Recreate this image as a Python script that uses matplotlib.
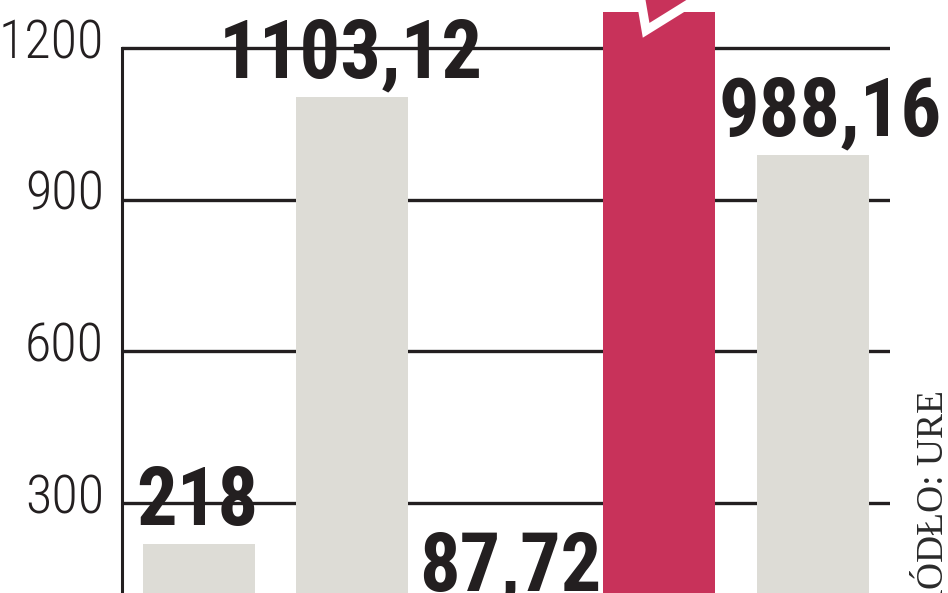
import matplotlib
matplotlib.use('Agg')
import matplotlib.pyplot as plt
from matplotlib import font_manager
from matplotlib.patches import Polygon
from matplotlib.transforms import ScaledTranslation

# values (red bar is cut off at the top)
categories = ['A', 'B', 'C', 'D', 'E']
values = [218, 1103.12, 87.72, 1271, 988.16]
labels = ['218', '1103,12', '87,72', None, '988,16']
highlight = 3
yticks = [300, 600, 900, 1200]
source = 'ŹRÓDŁO: URE'

grey = '#dddcd6'
red = '#c8325a'
ink = '#231f20'

# find a narrow face if there is one
fonts = font_manager.fontManager.ttflist
narrow_stretch = {'condensed', 'semi-condensed', 'extra-condensed', 'ultra-condensed', 'narrow'}
cond = [f for f in fonts if str(f.stretch) in narrow_stretch or
        'Condensed' in f.name or 'Narrow' in f.name]
if any(f.name == 'Roboto Condensed' for f in cond):
    narrow, stretch = 'Roboto Condensed', 'normal'
elif any(f.name == 'DejaVu Sans' for f in cond):
    narrow, stretch = 'DejaVu Sans', 'condensed'
elif cond:
    narrow, stretch = cond[0].name, cond[0].stretch
else:
    narrow, stretch = 'Roboto', 'normal'

fig = plt.figure(figsize=(9.48, 5.93), dpi=100)
ax = fig.add_axes([122 / 948, 0, 768 / 948, 1])

x = list(range(len(categories)))
colors = [red if i == highlight else grey for i in x]
ax.bar(x, values, width=0.73, color=colors, zorder=2)

ax.set_xlim(-0.502, 4.505)
ax.set_ylim(122, 1295)

# gridlines behind the bars
for v in yticks:
    ax.axhline(v, color=ink, lw=2.4, zorder=1)

# decorative arrow tip on top of the red bar
top = values[highlight]
arrow = Polygon([(highlight - 0.13, top + 44), (highlight - 0.085, top - 36),
                 (highlight + 0.339, top + 44)],
                closed=True, facecolor=red, edgecolor='white', lw=6.5,
                joinstyle='miter', zorder=3)
ax.add_patch(arrow)

# value labels
shift = {'87,72': 5, '988,16': 18}
for i, (v, lab) in enumerate(zip(values, labels)):
    if lab is None:
        continue
    ax.annotate(lab, (i, v), xytext=(shift.get(lab, -2) * 0.72, 30),
                textcoords='offset points', ha='center', va='center',
                fontsize=58, fontweight='bold', family=narrow, stretch=stretch,
                color=ink, zorder=4, annotation_clip=False)

# axes styling
for s in ['top', 'right', 'bottom']:
    ax.spines[s].set_visible(False)
ax.spines['left'].set_bounds(122, 1200)
ax.spines['left'].set_linewidth(2.2)
ax.spines['left'].set_color(ink)
ax.set_xticks([])
ax.set_yticks(yticks)
ax.set_yticklabels([str(t) for t in yticks])
ax.tick_params(axis='y', length=0, pad=13, labelsize=39, labelcolor=ink)
for t in ax.get_yticklabels():
    t.set_family(narrow)
    t.set_stretch(stretch)
    t.set_fontweight('light')
    t.set_transform(t.get_transform() + ScaledTranslation(0, 0.10, fig.dpi_scale_trans))

fig.text(934 / 948, 1 - 390 / 593, source, rotation=90, ha='center', va='top',
         fontsize=27, family='Liberation Serif', color='#2a2a2a')

fig.savefig('out.png', dpi=100)
